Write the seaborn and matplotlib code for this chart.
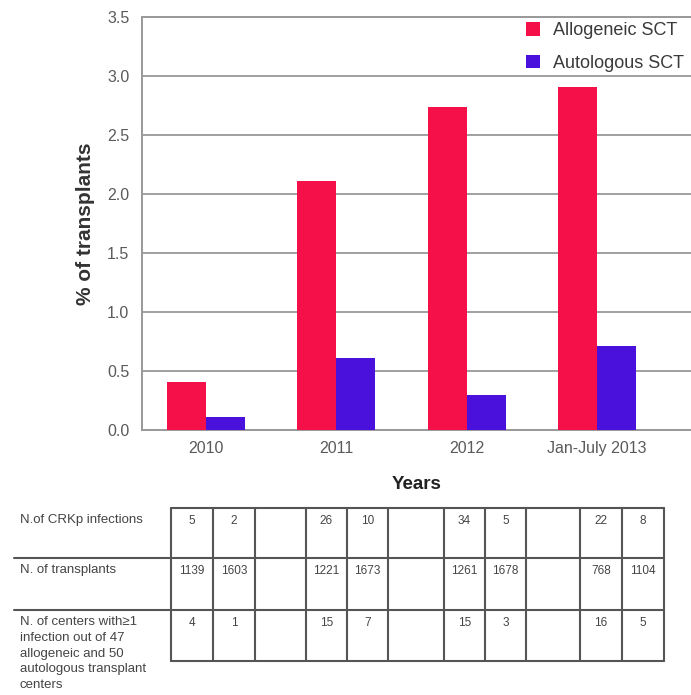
import numpy as np
import pandas as pd
import matplotlib
matplotlib.use("Agg")
import matplotlib.pyplot as plt
import seaborn as sns

# chart data
years = ["2010", "2011", "2012", "Jan-July 2013"]
groups = ["Allogeneic SCT", "Autologous SCT"]
allo_pct = [0.41, 2.11, 2.74, 2.91]
auto_pct = [0.11, 0.61, 0.30, 0.71]

# table data (allogeneic / autologous per year)
row_labels = [
    "N.of CRKp infections",
    "N. of transplants",
    "N. of centers with\u22651\ninfection out of 47\nallogeneic and 50\nautologous transplant\ncenters",
]
crkp_allo = [5, 26, 34, 22]
crkp_auto = [2, 10, 5, 8]
tx_allo = [1139, 1221, 1261, 768]
tx_auto = [1603, 1673, 1678, 1104]
centers_allo = [4, 15, 15, 16]
centers_auto = [1, 7, 3, 5]

palette = {"Allogeneic SCT": "#F5104A", "Autologous SCT": "#4A10DC"}

df = pd.DataFrame({
    "year": years * 2,
    "group": [groups[0]] * 4 + [groups[1]] * 4,
    "pct": allo_pct + auto_pct,
})

sns.set_style("white")
plt.rcParams["font.family"] = ["Liberation Sans", "DejaVu Sans"]

W, H = 691, 695
fig = plt.figure(figsize=(W / 100, H / 100), dpi=100)
ax = fig.add_axes([142 / W, 265 / H, 549 / W, 413 / H])

sns.barplot(data=df, x="year", y="pct", hue="group", palette=palette,
            width=0.6, gap=0, saturation=1, linewidth=0, ax=ax, zorder=3)

ax.set_xlim(-0.491, 3.72)
ax.set_ylim(0, 3.5)
ax.set_yticks(np.arange(0, 3.51, 0.5))
ax.set_yticklabels([f"{v:.1f}" for v in np.arange(0, 3.51, 0.5)])
ax.yaxis.grid(True, color="#a0a0a0", linewidth=1.4, zorder=0)
ax.set_axisbelow(True)
for side in ["left", "bottom", "top"]:
    ax.spines[side].set_color("#999999")
    ax.spines[side].set_linewidth(1.4)
ax.spines["right"].set_visible(False)
ax.tick_params(axis="both", length=0, labelsize=11.5, colors="#5a5a5a", pad=9)
ax.tick_params(axis="x", pad=8)

ax.set_ylabel("% of transplants", fontsize=15, fontweight="bold", color="#333333", labelpad=9)
ax.set_xlabel("Years", fontsize=13.5, fontweight="bold", color="#222222", labelpad=14)

ax.legend(loc="upper right", frameon=False, fontsize=13, handlelength=0.8, handleheight=0.8,
          labelspacing=0.85, handletextpad=0.7, borderaxespad=0.0, labelcolor="#3a3a3a",
          bbox_to_anchor=(1.0, 1.005))

# table below the chart, drawn in pixel coordinates
tab = fig.add_axes([0, 0, 1, 1], zorder=-1)
tab.set_xlim(0, W)
tab.set_ylim(H, 0)
tab.axis("off")

col_x = [171, 213, 255, 306, 347, 388, 444, 485, 526, 580, 622, 664]
row_y = [508, 558, 610, 661]
line_kw = dict(color="#555555", linewidth=1.5)
tab.plot([col_x[0], col_x[-1]], [row_y[0], row_y[0]], **line_kw)
tab.plot([14, col_x[-1]], [row_y[1], row_y[1]], **line_kw)
tab.plot([14, col_x[-1]], [row_y[2], row_y[2]], **line_kw)
tab.plot([col_x[0], col_x[-1]], [row_y[3], row_y[3]], **line_kw)
for x in col_x:
    tab.plot([x, x], [row_y[0], row_y[3]], **line_kw)

for i, lab in enumerate(row_labels):
    tab.text(20, row_y[i] + 6, lab, fontsize=9.5, color="#444444", va="top", ha="left",
             linespacing=1.42)

rows = [(crkp_allo, crkp_auto), (tx_allo, tx_auto), (centers_allo, centers_auto)]
for r, (a_vals, b_vals) in enumerate(rows):
    for k in range(4):
        xa = (col_x[3 * k] + col_x[3 * k + 1]) / 2
        xb = (col_x[3 * k + 1] + col_x[3 * k + 2]) / 2
        tab.text(xa, row_y[r] + 7, str(a_vals[k]), fontsize=8.5, color="#444444", ha="center", va="top")
        tab.text(xb, row_y[r] + 7, str(b_vals[k]), fontsize=8.5, color="#444444", ha="center", va="top")

fig.savefig("out.png", dpi=100)
